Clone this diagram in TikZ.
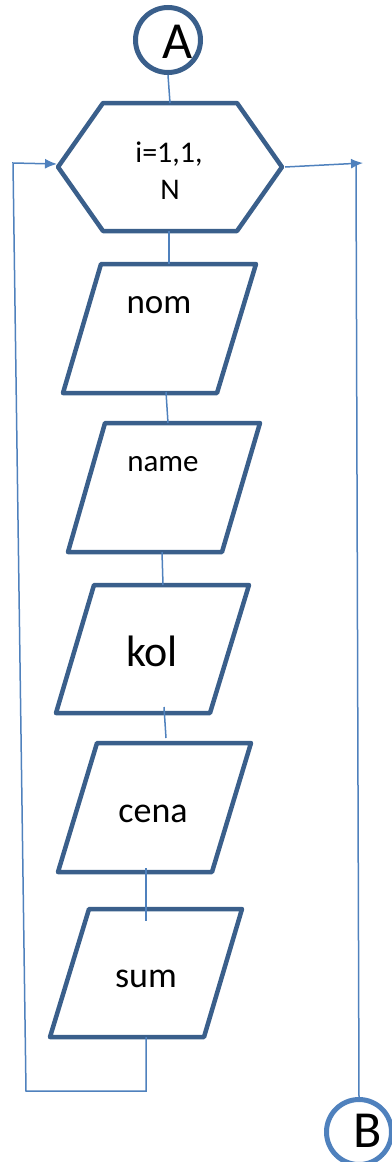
\documentclass[tikz,border=0pt]{standalone}
\usepackage{fontspec}
\setmainfont{Carlito}
\usetikzlibrary{arrows.meta}
\definecolor{outline}{HTML}{3A5F8B}
\definecolor{flow}{HTML}{4F81BD}
\tikzset{
  shapeline/.style={draw=outline, line width=4.5pt, line join=round},
  flowline/.style={draw=flow, line width=1.5pt},
  arrowline/.style={flowline, -{Latex[length=12pt,width=10pt]}},
  connector/.style={circle, draw, line width=5pt, minimum size=65pt, inner sep=0pt},
  txt/.style={anchor=base, inner sep=0pt, text=black},
}
\begin{document}
\begin{tikzpicture}[x=1pt,y=-1pt]
\useasboundingbox (0,0) rectangle (391,1162);

% connectors A and B
\node[connector, draw=outline] (A) at (168,40) {};
\node[txt, font=\fontsize{52}{60}\selectfont] (Atxt) at (178,58) {A};
\node[connector, draw=flow] (B) at (359,1132) {};
\node[txt, font=\fontsize{52}{60}\selectfont] (Btxt) at (368,1147) {B};

% loop header (hexagon)
\draw[shapeline] (103,103) -- (237,103) -- (282,167) -- (237,231) -- (103,231) -- (58,167) -- cycle;
\node[txt, font=\fontsize{30}{36}\selectfont] (hexA) at (169,162) {i=1,1,};
\node[txt, font=\fontsize{30}{36}\selectfont] (hexB) at (170,199) {N};

% input blocks (parallelograms)
\draw[shapeline] (101,264) -- (256,264) -- (217,393) -- (63,393) -- cycle;
\node[txt, font=\fontsize{35}{40}\selectfont] (nom) at (159,313) {nom};

\draw[shapeline] (105,423) -- (260,423) -- (222,552) -- (68,552) -- cycle;
\node[txt, font=\fontsize{31}{36}\selectfont] (name) at (163,471) {name};

\draw[shapeline] (94,585) -- (249,585) -- (210,713) -- (56,713) -- cycle;
\node[txt, font=\fontsize{44}{50}\selectfont] (kol) at (152,666) {kol};

\draw[shapeline] (97,743) -- (251,743) -- (212,872) -- (58,872) -- cycle;
\node[txt, font=\fontsize{36}{42}\selectfont] (cena) at (153,822) {cena};

\draw[shapeline] (89,909) -- (242,909) -- (204,1037) -- (50,1037) -- cycle;
\node[txt, font=\fontsize{36}{42}\selectfont] (sum) at (146,987) {sum};

% connection points
\coordinate (hexT) at (170,103);
\coordinate (hexB1) at (169,231);
\coordinate (hexL) at (57,164);
\coordinate (hexR) at (285,167);
\coordinate (nomT) at (169,264);
\coordinate (nomB) at (166,392);
\coordinate (nameT) at (168,423);
\coordinate (nameB) at (162,552);
\coordinate (kolT) at (163,585);
\coordinate (kolB) at (164,707);
\coordinate (cenaT) at (166,738);
\coordinate (cenaB) at (146,868);
\coordinate (sumT) at (146,921);
\coordinate (sumB) at (146,1037);
\coordinate (loopBL) at (26,1091);
\coordinate (loopTL) at (13,163);
\coordinate (exitR) at (363,163);
\coordinate (exitTop) at (356,165);

% flow lines
\draw[flowline] (A.south) -- (hexT);
\draw[flowline] (hexB1) -- (nomT);
\draw[flowline] (nomB) -- (nameT);
\draw[flowline] (nameB) -- (kolT);
\draw[flowline] (kolB) -- (cenaT);
\draw[flowline] (cenaB) -- (sumT);
\draw[arrowline] (sumB) |- (loopBL) -- (loopTL) -- (hexL);
\draw[arrowline] (hexR) -- (exitR);
\draw[flowline] (exitTop) -- (B.north);
\end{tikzpicture}
\end{document}
